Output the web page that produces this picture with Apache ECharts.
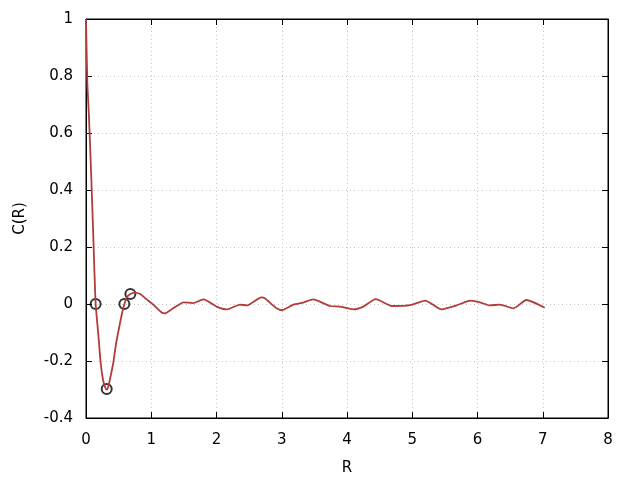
<!DOCTYPE html>
<html><head><meta charset="utf-8">
<script src="https://cdn.jsdelivr.net/npm/echarts@6/dist/echarts.min.js"></script>
<style>html,body{margin:0;padding:0;background:#fff}#c{width:640px;height:480px}</style>
</head><body><div id="c"></div>
<script>
var rValues = [0, 0.02, 0.045, 0.08, 0.11, 0.148, 0.19, 0.225, 0.26, 0.291, 0.317, 0.341, 0.38, 0.418, 0.46, 0.51, 0.55, 0.588, 0.63, 0.68, 0.75, 0.83, 0.92, 1.01, 1.16, 1.21, 1.31, 1.44, 1.49, 1.64, 1.8, 2.0, 2.16, 2.36, 2.46, 2.69, 2.74, 2.92, 3.0, 3.18, 3.33, 3.48, 3.74, 3.89, 4.1, 4.25, 4.44, 4.69, 4.97, 5.2, 5.45, 5.68, 5.89, 6.04, 6.19, 6.34, 6.55, 6.75, 7.03];
var cValues = [1.0, 0.78, 0.66, 0.45, 0.25, 0, -0.11, -0.207, -0.265, -0.291, -0.3, -0.291, -0.25, -0.207, -0.14, -0.08, -0.035, 0, 0.025, 0.035, 0.04, 0.035, 0.018, 0.002, -0.03, -0.033, -0.019, 0.0, 0.006, 0.003, 0.016, -0.009, -0.019, -0.002, -0.005, 0.023, 0.02, -0.015, -0.022, -0.002, 0.005, 0.016, -0.007, -0.009, -0.019, -0.009, 0.017, -0.007, -0.004, 0.012, -0.019, -0.005, 0.012, 0.006, -0.005, -0.002, -0.015, 0.014, -0.013];
var markR = [0.148, 0.317, 0.588, 0.68];
var markC = [0, -0.298, 0, 0.035];
var xTicks = [0, 1, 2, 3, 4, 5, 6, 7, 8];
var yTicks = [-0.4, -0.2, 0, 0.2, 0.4, 0.6, 0.8, 1];

var font = 'DejaVu Sans';
var chart = echarts.init(document.getElementById('c'), null, {renderer: 'canvas'});
var axisCommon = {
  axisLine: {show: true, onZero: false, lineStyle: {color: '#000', width: 1}},
  axisTick: {show: true, inside: true, length: 6, lineStyle: {color: '#000'}},
  splitLine: {show: false}
};
var gridLine = {show: true, lineStyle: {color: '#c8c8c8', type: [1, 3], width: 1}};
chart.setOption({
  animation: false,
  grid: {left: 86, right: 32, top: 19, bottom: 62, show: true, borderColor: '#000', borderWidth: 1,
    containLabel: false, outerBoundsMode: 'none'},
  xAxis: [
    {type: 'value', min: xTicks[0], max: xTicks[xTicks.length - 1], interval: 1,
      name: 'R', nameLocation: 'middle', nameGap: 43,
      nameTextStyle: {fontFamily: font, fontSize: 15, color: '#000'},
      axisLabel: {fontFamily: font, fontSize: 15, color: '#000', margin: 15},
      axisLine: {show: true, onZero: false, lineStyle: {color: '#000'}},
      axisTick: {show: true, inside: true, length: 6, lineStyle: {color: '#000'}},
      splitLine: gridLine},
    Object.assign({type: 'value', min: 0, max: 8, interval: 1, position: 'top',
      axisLabel: {show: false}}, axisCommon)
  ],
  yAxis: [
    {type: 'value', min: yTicks[0], max: yTicks[yTicks.length - 1], interval: 0.2,
      name: 'C(R)', nameLocation: 'middle', nameGap: 58, nameRotate: 90,
      nameTextStyle: {fontFamily: font, fontSize: 15, color: '#000'},
      axisLabel: {fontFamily: font, fontSize: 15, color: '#000', margin: 13,
        formatter: function (v) { return String(Math.round(v * 10) / 10); }},
      axisLine: {show: true, onZero: false, lineStyle: {color: '#000'}},
      axisTick: {show: true, inside: true, length: 6, lineStyle: {color: '#000'}},
      splitLine: gridLine},
    Object.assign({type: 'value', min: -0.4, max: 1, interval: 0.2, position: 'right',
      axisLabel: {show: false}}, axisCommon)
  ],
  series: [
    {type: 'line', data: rValues.map(function (r, i) { return [r, cValues[i]]; }),
      smooth: 0.2, showSymbol: false, lineStyle: {color: '#b03c3c', width: 1.8}},
    {type: 'scatter', data: markR.map(function (r, i) { return [r, markC[i]]; }),
      symbol: 'circle', symbolSize: 10,
      itemStyle: {color: 'rgba(0,0,0,0)', borderColor: '#000', borderWidth: 2}}
  ]
});
</script></body></html>
